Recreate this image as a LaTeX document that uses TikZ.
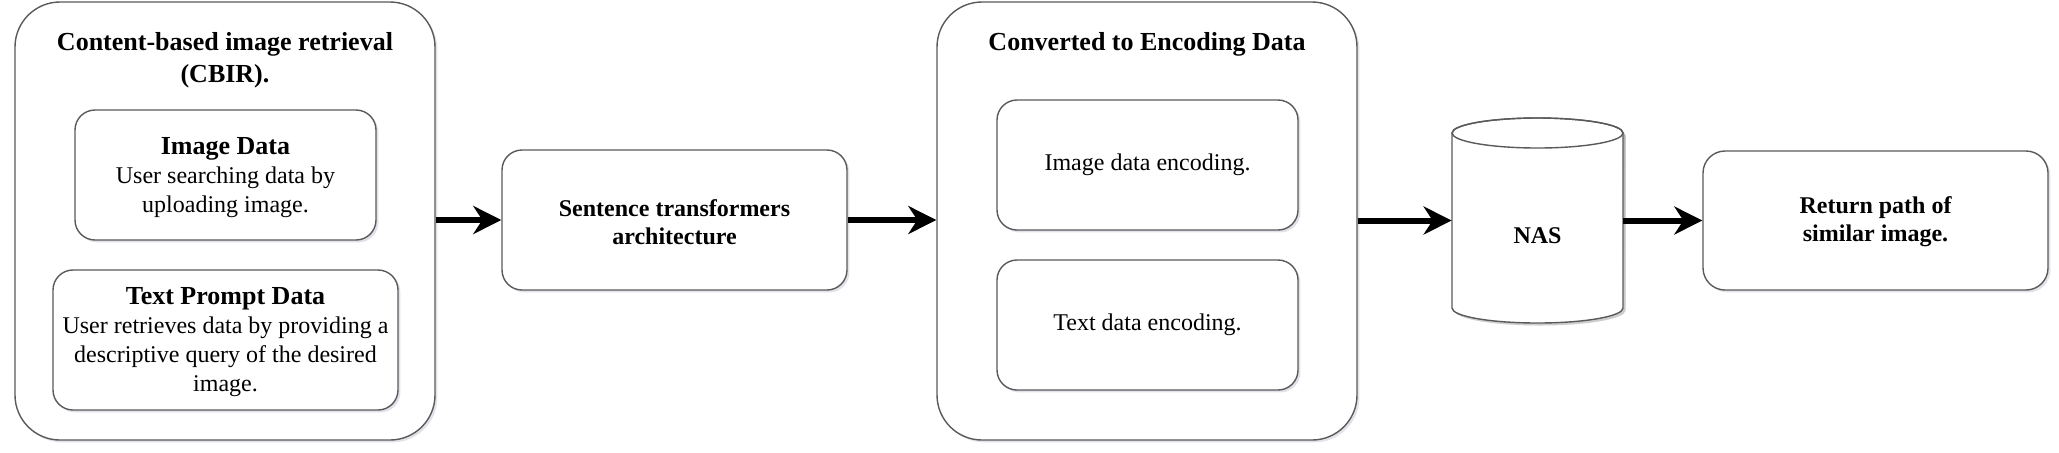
\documentclass[tikz,border=0pt]{standalone}
\usepackage{fontspec}
\setmainfont{Liberation Serif}
\usetikzlibrary{arrows.meta,shadows}
\definecolor{edge}{HTML}{5A5A5A}
\definecolor{shade}{HTML}{8A8FA8}
\tikzset{
  box/.style={draw=edge, line width=0.7pt, fill=white, rounded corners=#1,
    inner sep=0pt, align=center,
    drop shadow={shadow xshift=1.2pt, shadow yshift=-1.2pt, opacity=0.25, fill=shade}},
  box/.default=10pt,
  ttl/.style={align=center, inner sep=0pt, font=\bfseries\fontsize{13}{16}\selectfont},
  body/.style={align=center, inner sep=0pt, font=\fontsize{12}{14.5}\selectfont},
  bbody/.style={align=center, inner sep=0pt, font=\bfseries\fontsize{12}{14}\selectfont},
  flow/.style={line width=3pt, -{Stealth[length=14pt,width=14pt,inset=4.5pt]}},
}
\begin{document}
\begin{tikzpicture}[x=0.5pt,y=-0.5pt]
\useasboundingbox (0,0) rectangle (2059,452);

% left group
\node[box=22.5pt, minimum width=210pt, minimum height=219pt] (g1) at (225,221) {};
\node[ttl] (t1) at (225,60) {Content-based image retrieval\\(CBIR).};
\node[box=10pt, minimum width=150.5pt, minimum height=65pt] (img) at (225.5,175) {};
\node[body] (imgt) at (225.5,178) {{\bfseries\fontsize{13}{14.5}\selectfont Image Data}\\User searching data by\\uploading image.};
\node[box=10pt, minimum width=172.5pt, minimum height=70pt] (txt) at (225.5,340) {};
\node[body] (txtt) at (225.5,342) {{\bfseries\fontsize{13}{14.5}\selectfont Text Prompt Data}\\User retrieves data by providing a\\descriptive query of the desired\\image.};

% sentence transformers
\node[box=10pt, minimum width=172.5pt, minimum height=70pt] (st) at (674.5,220) {};
\node[bbody] (stt) at (674.5,222) {Sentence transformers\\architecture};

% encoding group
\node[box=22.5pt, minimum width=210pt, minimum height=219pt] (g2) at (1147,221) {};
\node[ttl] (t2) at (1147,44) {Converted to Encoding Data};
\node[box=10pt, minimum width=150.5pt, minimum height=65pt] (enci) at (1147.5,165) {};
\node[body] at (enci) {Image data encoding.};
\node[box=10pt, minimum width=150.5pt, minimum height=65pt] (enct) at (1147.5,325) {};
\node[body] at (enct) {Text data encoding.};

% NAS cylinder
\node[minimum width=85.5pt, minimum height=102.5pt, inner sep=0pt] (nas) at (1537.5,220.5) {};
\fill[shade, opacity=0.25] (1454.5,135.5) -- (1454.5,310.5) arc[start angle=180,end angle=360,x radius=42.75pt,y radius=7.5pt] -- (1625.5,135.5) arc[start angle=0,end angle=180,x radius=42.75pt,y radius=7.5pt] -- cycle;
\filldraw[draw=edge, line width=0.7pt, fill=white] (1452,133) -- (1452,308) arc[start angle=180,end angle=360,x radius=42.75pt,y radius=7.5pt] -- (1623,133) arc[start angle=0,end angle=180,x radius=42.75pt,y radius=7.5pt] -- cycle;
\draw[edge, line width=0.7pt] (1537.5,133) ellipse[x radius=42.75pt, y radius=7.5pt];
\node[bbody] (nast) at (1537.5,236) {NAS};

% return box
\node[box=11pt, minimum width=172.5pt, minimum height=69.5pt] (ret) at (1875.5,220.5) {};
\node[bbody] (rett) at (1875.5,222) {Return path of\\similar image.};

% connectors
\draw[flow] (g1.east |- st.west) -- (st.west);
\draw[flow] (st.east) -- (g2.west |- st.east);
\draw[flow] (g2.east |- nas.west) -- (nas.west);
\draw[flow] (nas.east) -- (ret.west);
\end{tikzpicture}
\end{document}
